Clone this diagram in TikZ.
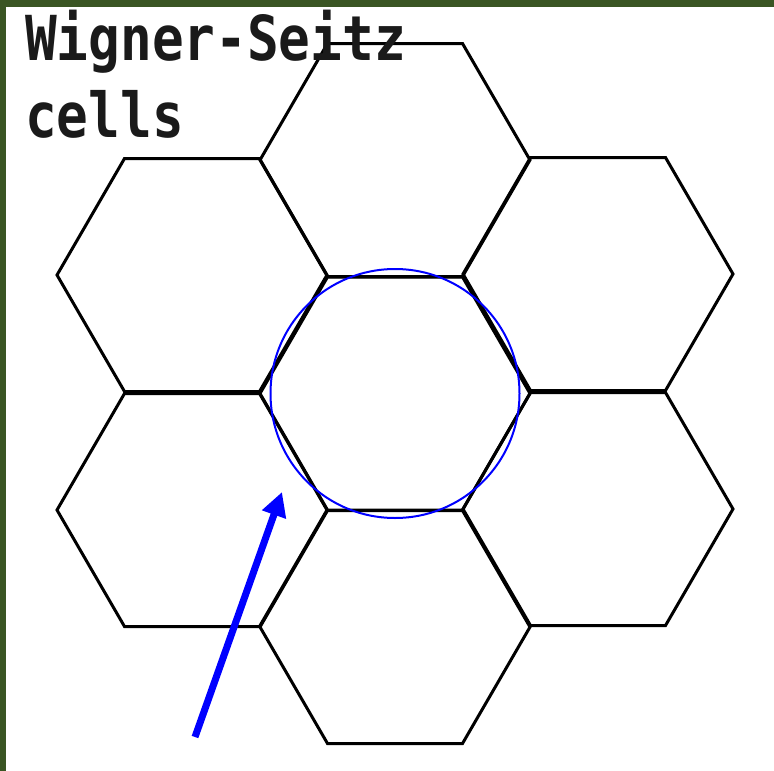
\documentclass[tikz,border=0pt]{standalone}
\usepackage{fontspec}
\newfontfamily\labelfont{DejaVu Sans Mono}
\usetikzlibrary{arrows.meta}
\definecolor{frame}{RGB}{58,85,35}
\definecolor{ink}{RGB}{26,26,26}
\tikzset{
  hexcell/.style={draw=black, line width=3pt, line join=miter},
  ringline/.style={draw=blue, line width=2pt},
  bluearrow/.style={draw=blue, line width=7pt, -{Triangle[length=24pt,width=24pt]}},
  title/.style={font=\labelfont\bfseries\fontsize{62}{77}\selectfont, text=ink, align=left, inner sep=0pt, xscale=0.85, transform shape}
}
\begin{document}
\begin{tikzpicture}[x=1pt,y=-1pt]
\useasboundingbox (0,0) rectangle (774,771);
\fill[white] (0,0) rectangle (774,771);
\fill[frame] (0,0) rectangle (774,7);
\fill[frame] (0,0) rectangle (6,771);
\foreach \cx/\cy in {395/393.5, 395/160, 192/275, 598/274, 192/510, 598/509, 395/627}{
  \draw[hexcell] (\cx+135,\cy) -- (\cx+67.5,\cy-116.5) -- (\cx-67.5,\cy-116.5) -- (\cx-135,\cy) -- (\cx-67.5,\cy+116.5) -- (\cx+67.5,\cy+116.5) -- cycle;
}
\coordinate (ringc) at (395,393.5);
\draw[ringline] (ringc) circle[radius=124.5pt];
\coordinate (tail) at (195,737);
\coordinate (tip) at (282,492);
\draw[bluearrow] (tail) -- (tip);
\node[title, anchor=base west] (label) at (25,137) {Wigner-Seitz\\cells};
\end{tikzpicture}
\end{document}
